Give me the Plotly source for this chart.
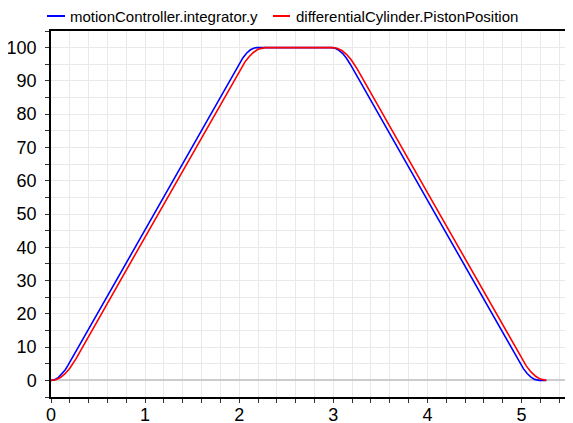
import plotly.graph_objects as go

# Time (s) and values
blue_t = [0.0, 0.04, 0.08, 0.12, 0.15, 0.18, 1.0, 1.5, 2.008, 2.04, 2.08, 2.12, 2.16, 2.188,
          2.98, 3.02, 3.06, 3.10, 3.14, 3.18, 4.0, 4.988, 5.02, 5.06, 5.10, 5.14, 5.188, 5.263]
blue_y = [0.0, 0.22, 0.89, 1.99, 3.11, 4.48, 45.32, 70.22, 95.52, 96.97, 98.39, 99.36, 99.89, 100.0,
          100.0, 99.8, 99.2, 98.21, 96.81, 95.02, 54.18, 4.98, 3.51, 2.04, 0.96, 0.29, 0.0, 0.0]

red_t = [0.0, 0.005, 0.05, 0.10, 0.15, 0.20, 0.265, 1.0, 1.5, 2.013, 2.06, 2.10, 2.15, 2.20, 2.24, 2.273,
         2.995, 3.04, 3.09, 3.14, 3.19, 3.255, 4.0, 5.003, 5.05, 5.10, 5.15, 5.20, 5.263]
red_y = [0.0, 0.0, 0.19, 0.86, 2.01, 3.64, 6.47, 43.08, 67.98, 93.53, 95.65, 97.13, 98.55, 99.49, 99.9, 100.0,
         100.0, 99.81, 99.14, 97.99, 96.36, 93.53, 56.43, 6.48, 4.35, 2.54, 1.22, 0.38, 0.0]

names = ["motionController.integrator.y", "differentialCylinder.PistonPosition"]
colors = ["#0000ff", "#ff0000"]

font_family = "Liberation Sans, Arial, sans-serif"
grid_color = "#e9e9e9"

fig = go.Figure()
fig.add_trace(go.Scatter(x=blue_t, y=blue_y, mode="lines", name=names[0],
                         line=dict(color=colors[0], width=1.6), showlegend=False))
fig.add_trace(go.Scatter(x=red_t, y=red_y, mode="lines", name=names[1],
                         line=dict(color=colors[1], width=1.6), showlegend=False))

# The page body has an 8px margin, so the figure is drawn 8px right/down of the window corner.
OFF = 8
SW, SH = 573, 423                     # window size
W, H = SW - OFF, SH - OFF             # figure size
# desired on-screen plot area: left 51, top 31, bottom 397, right 573
ml, mt, mb, mr = 51 - OFF, 31 - OFF, SH - 397, 0
pw, ph = W - ml - mr, H - mt - mb

def screen_to_paper(sx, sy):
    fx, fy = sx - OFF, sy - OFF
    return (fx - ml) / pw, (H - mb - fy) / ph

# Custom legend (line sample + text), screen pixel positions
legend_items = [(47, 65, 68), (273, 290, 294)]
for (x0, x1, xt), name, col in zip(legend_items, names, colors):
    p0x, p0y = screen_to_paper(x0, 16)
    p1x, _ = screen_to_paper(x1, 16)
    ptx, _ = screen_to_paper(xt, 16)
    fig.add_shape(type="line", xref="paper", yref="paper", x0=p0x, x1=p1x, y0=p0y, y1=p0y,
                  line=dict(color=col, width=2))
    fig.add_annotation(xref="paper", yref="paper", x=ptx, y=p0y, text=name, showarrow=False,
                       xanchor="left", yanchor="middle",
                       font=dict(family=font_family, size=15, color="#000000"))

fig.update_layout(
    width=W, height=H,
    margin=dict(l=ml, r=mr, t=mt, b=mb, pad=0, autoexpand=False),
    paper_bgcolor="white", plot_bgcolor="white",
    font=dict(family=font_family, size=18, color="#000000"),
    xaxis=dict(range=[0, 5.547], dtick=1, tick0=0, ticks="outside", ticklen=4, tickcolor="#333333",
               showgrid=True, gridcolor=grid_color, gridwidth=1, automargin=False,
               ticklabelstandoff=-3,
               minor=dict(dtick=0.2, tick0=0, ticks="outside", ticklen=4, tickcolor="#333333",
                          showgrid=True, gridcolor=grid_color),
               showline=True, linecolor="#000000", linewidth=1.5, mirror=True,
               zeroline=False, tickfont=dict(size=18)),
    yaxis=dict(range=[-5, 105], dtick=10, tick0=0, ticks="outside", ticklen=4, tickcolor="#333333",
               showgrid=True, gridcolor=grid_color, gridwidth=1, automargin=False,
               ticklabelstandoff=5,
               minor=dict(dtick=5, tick0=0, ticks="outside", ticklen=4, tickcolor="#333333",
                          showgrid=True, gridcolor=grid_color),
               showline=True, linecolor="#000000", linewidth=1.5,
               zeroline=True, zerolinecolor="#cccccc", zerolinewidth=2,
               tickfont=dict(size=18)),
)

fig.write_html("out.html")
